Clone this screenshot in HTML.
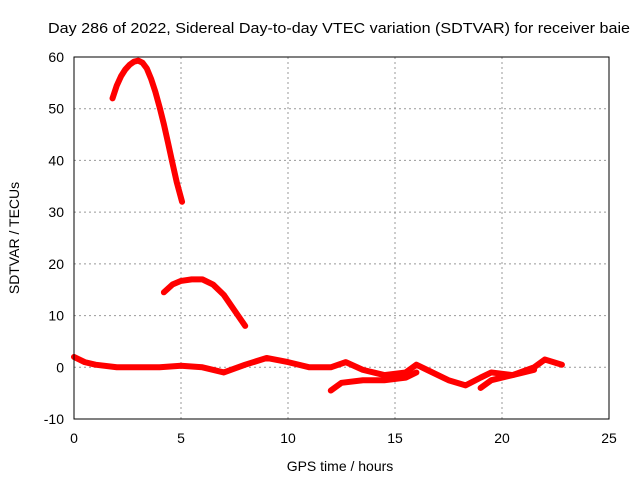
<!DOCTYPE html>
<html><head><meta charset="utf-8"><style>
body{margin:0;background:#fff}
svg text{font-family:"Liberation Sans",sans-serif;font-size:14px;fill:#000}
</style></head><body>
<svg width="640" height="480">
<rect width="640" height="480" fill="#fff"/>
<text x="339" y="33" text-anchor="middle" textLength="582" lengthAdjust="spacingAndGlyphs" style="font-size:15px">Day 286 of 2022, Sidereal Day-to-day VTEC variation (SDTVAR) for receiver baie</text>
<g id="grid"></g>
<g id="ticks"></g>
<g id="series"></g>
<rect x="74" y="57" width="535" height="362" fill="none" stroke="#000"/>
<text x="340" y="471" text-anchor="middle">GPS time / hours</text>
<text transform="translate(19,238) rotate(-90)" text-anchor="middle">SDTVAR / TECUs</text>
</svg>
<script>
const xTicks=[0,5,10,15,20,25];
const yTicks=[-10,0,10,20,30,40,50,60];
const arc1X=[1.8,2.0,2.2,2.4,2.6,2.8,3.0,3.2,3.4,3.6,3.8,4.0,4.2,4.4,4.6,4.8,5.05];
const arc1Y=[52,54.5,56.3,57.6,58.5,59.1,59.3,58.9,57.8,55.8,53.3,50.3,47,43.3,39.5,35.8,32];
const arc2X=[4.2,4.6,5.0,5.5,6.0,6.5,7.0,7.5,8.0];
const arc2Y=[14.5,16,16.7,17,17,16,14,11,8];
const baseX=[0,0.5,1,2,3,4,5,6,7,8,9,10,11,12,12.7,13.5,14.5,15.5,16,16.5,17.5,18.3,19,19.5,20.5,21.5,22,22.8];
const baseY=[2,1,0.5,0,0,0,0.3,0,-1,0.5,1.8,1,0,0,1,-0.5,-1.5,-1,0.5,-0.5,-2.5,-3.5,-2,-1,-1.5,0,1.5,0.5];
const lowX=[12,12.5,13.5,14.5,15.5,16];
const lowY=[-4.5,-3,-2.5,-2.5,-2,-1];
const low2X=[19,19.5,20.5,21.5];
const low2Y=[-4,-2.5,-1.5,-0.5];
const sx=v=>74+v*535/25, sy=v=>419-(v+10)*362/70;
const NS='http://www.w3.org/2000/svg';
const g=document.getElementById('grid'),t=document.getElementById('ticks'),s=document.getElementById('series');
function mk(tag,a,p){const e=document.createElementNS(NS,tag);for(const k in a)e.setAttribute(k,a[k]);p.appendChild(e);return e;}
xTicks.forEach(v=>{
 if(v>0&&v<25){const l=mk('line',{x1:sx(v),x2:sx(v),y1:57,y2:419,stroke:'#999','stroke-dasharray':'2,3'},g);
 
 }
 const tx=mk('text',{x:sx(v),y:443,'text-anchor':'middle'},t);tx.textContent=v;
 
 
});
yTicks.forEach(v=>{
 if(v>-10&&v<60){const l=mk('line',{x1:74,x2:609,y1:sy(v),y2:sy(v),stroke:'#999','stroke-dasharray':'2,3'},g);
 
 }
 const tx=mk('text',{x:64,y:sy(v)+5,'text-anchor':'end'},t);tx.textContent=v;
 
 
});
[[arc1X,arc1Y,'arc-series-1'],[arc2X,arc2Y,'arc-series-2'],[baseX,baseY,'baseline-series'],[lowX,lowY,'lower-branch-1'],[low2X,low2Y,'lower-branch-2']].forEach(([X,Y,n])=>{
 const p=mk('polyline',{points:X.map((x,i)=>sx(x)+','+sy(Y[i])).join(' '),fill:'none',stroke:'#f00','stroke-width':6,'stroke-linejoin':'round','stroke-linecap':'round'},s);
 
 
});
</script>
</body></html>
